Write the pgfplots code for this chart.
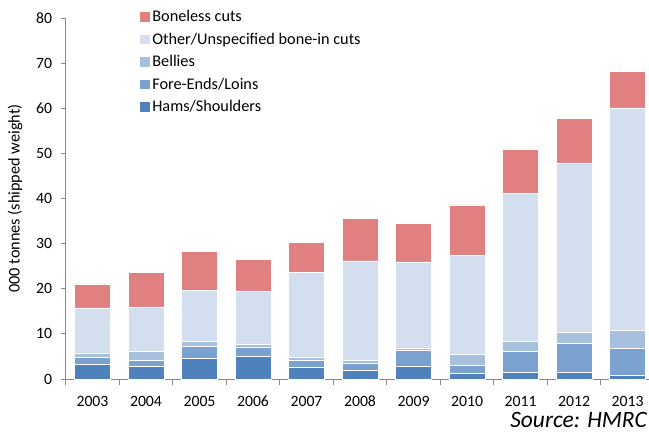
\documentclass[border=0pt]{standalone}
\usepackage{pgfplots}
\pgfplotsset{compat=1.18}
\usepackage{fontspec}
\setmainfont{Carlito}
\definecolor{hams}{HTML}{4F81BD}
\definecolor{fore}{HTML}{7BA1CE}
\definecolor{bellies}{HTML}{A7C0DE}
\definecolor{other}{HTML}{D3DFEE}
\definecolor{boneless}{HTML}{E08080}
\definecolor{axisgray}{HTML}{898989}
\begin{document}
\begin{tikzpicture}
\path[use as bounding box] (0,0) rectangle (486.75pt,324pt);
\begin{axis}[
  at={(49.3pt,39.75pt)}, anchor=south west,
  scale only axis, width=437.4pt, height=270.75pt,
  ybar stacked, bar width=0.667,
  xmin=-0.5, xmax=10.4, ymin=0, ymax=80,
  axis x line*=bottom, axis y line*=left,
  axis line style={draw=axisgray, line width=0.75pt},
  tick align=outside, major tick length=3.75pt,
  ytick={0,10,...,80},
  ytick style={draw=axisgray, line width=0.75pt},
  xtick={0,...,10},
  xticklabels={2003,2004,2005,2006,2007,2008,2009,2010,2011,2012,2013},
  xtick style={draw=none},
  extra x ticks={-0.5,0.5,...,9.5},
  extra x tick labels={},
  extra x tick style={xtick style={draw=axisgray, line width=0.75pt}, major tick length=4.5pt},
  /pgf/number format/assume math mode=true,
  ticklabel style={font=\fontsize{11.8}{13}\selectfont, text=black},
  yticklabel style={xshift=-3pt},
  xticklabel style={yshift=-5.5pt},
  ylabel={000 tonnes (shipped weight)},
  every axis y label/.style={at={(axis description cs:-0.087,0.5)}, rotate=90, anchor=center, font=\fontsize{12.2}{14}\selectfont},
  reverse legend,
  legend cell align=left,
  legend image code/.code={\fill[#1] (0pt,-3.9pt) rectangle (7.8pt,3.9pt);},
  legend style={draw=none, fill=none, at={(0.119,1.035)}, anchor=north west,
    font=\fontsize{12.2}{14}\selectfont, row sep=3.9pt, nodes={inner sep=1.5pt}},
]
\addplot[fill=hams, draw=white, line width=0.4pt] coordinates {(0,3.33) (1,2.88) (2,4.5) (3,4.95) (4,2.5) (5,2.0) (6,2.9) (7,1.26) (8,1.4) (9,1.55) (10,0.73)};
\addplot[fill=fore, draw=white, line width=0.4pt] coordinates {(0,1.39) (1,1.33) (2,2.66) (3,2.15) (4,1.56) (5,1.55) (6,3.4) (7,1.84) (8,4.65) (9,6.28) (10,5.99)};
\addplot[fill=bellies, draw=white, line width=0.4pt] coordinates {(0,1.05) (1,1.99) (2,1.11) (3,0.66) (4,0.82) (5,0.65) (6,0.6) (7,2.37) (8,2.35) (9,2.44) (10,4.15)};
\addplot[fill=other, draw=white, line width=0.4pt] coordinates {(0,9.98) (1,9.6) (2,11.33) (3,11.74) (4,18.72) (5,22.0) (6,19.05) (7,21.93) (8,32.7) (9,37.53) (10,49.23)};
\addplot[fill=boneless, draw=white, line width=0.4pt] coordinates {(0,5.32) (1,7.8) (2,8.6) (3,7.0) (4,6.7) (5,9.4) (6,8.55) (7,11.2) (8,9.8) (9,9.9) (10,8.0)};
\legend{Hams/Shoulders, Fore-Ends/Loins, Bellies, Other/Unspecified bone-in cuts, Boneless cuts}
\end{axis}
\node[anchor=base east, font=\fontsize{17.6}{20}\selectfont\itshape, inner sep=0pt] at (485.25pt,3.4pt) {Source: HMRC};
\end{tikzpicture}
\end{document}
